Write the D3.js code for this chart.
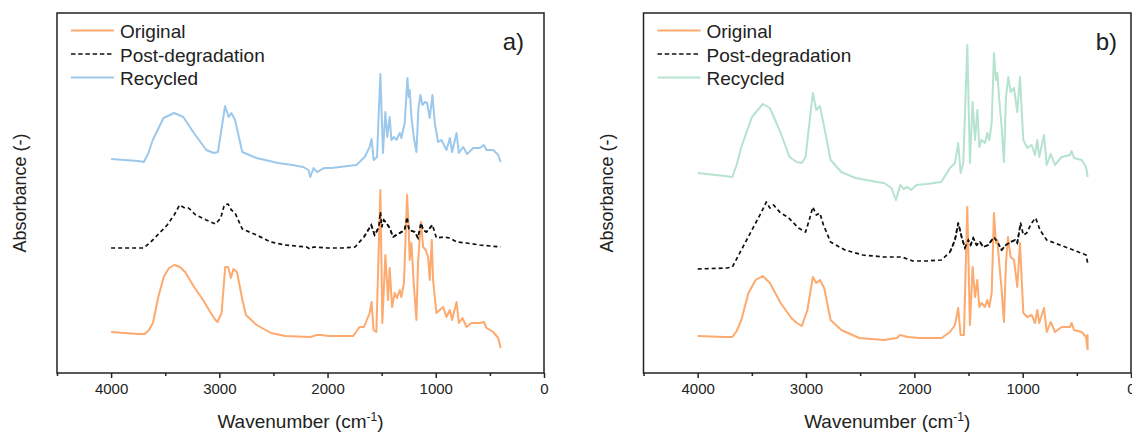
<!DOCTYPE html>
<html>
<head>
<meta charset="utf-8">
<script src="https://cdn.jsdelivr.net/npm/d3@7"></script>
<style>
  body { margin: 0; background: #fff; }
  svg { display: block; font-family: "Liberation Sans", Arial, sans-serif; }
</style>
</head>
<body>
<script>
// FTIR spectra, [wavenumber (cm-1), absorbance offset]
const seriesNames = ['Original', 'Post-degradation', 'Recycled'];
const xTicks = [4000, 3000, 2000, 1000, 0];
const xMinorTicks = [4500, 3500, 2500, 1500, 500];

const aOriginal = [[4000,0.41],[3750,0.39],[3690,0.39],[3650,0.43],[3613,0.50],[3564,0.76],[3514,0.96],[3465,1.05],[3415,1.08],[3365,1.06],[3316,1.01],[3233,0.86],[3150,0.73],[3084,0.61],[3035,0.53],[3018,0.51],[2979,0.60],[2946,1.06],[2919,1.06],[2893,0.95],[2870,1.04],[2837,1.01],[2787,0.73],[2754,0.58],[2655,0.48],[2523,0.40],[2390,0.37],[2160,0.36],[2100,0.38],[2060,0.38],[1990,0.37],[1862,0.37],[1762,0.37],[1704,0.46],[1663,0.46],[1611,0.60],[1593,0.71],[1575,0.43],[1549,0.41],[1512,1.83],[1494,0.50],[1466,1.18],[1441,0.73],[1426,1.05],[1404,0.66],[1380,0.80],[1358,0.75],[1333,0.83],[1318,0.76],[1294,0.90],[1265,1.78],[1250,1.43],[1241,1.13],[1225,1.30],[1204,0.90],[1179,0.53],[1164,1.10],[1148,1.36],[1136,1.51],[1117,1.26],[1093,1.23],[1071,1.16],[1056,0.93],[1037,1.33],[1025,0.93],[994,0.60],[963,0.63],[932,0.66],[901,0.56],[870,0.63],[849,0.53],[808,0.71],[787,0.50],[753,0.55],[716,0.46],[670,0.50],[593,0.50],[556,0.51],[531,0.45],[469,0.41],[423,0.35],[400,0.25]];

const aPostDeg = [[4000,1.25],[3698,1.25],[3615,1.33],[3482,1.48],[3417,1.58],[3367,1.68],[3318,1.65],[3284,1.65],[3218,1.58],[3120,1.53],[3035,1.49],[2987,1.55],[2954,1.68],[2920,1.69],[2889,1.63],[2855,1.60],[2788,1.44],[2657,1.38],[2524,1.31],[2392,1.28],[2194,1.26],[2160,1.24],[2130,1.26],[2000,1.25],[1862,1.25],[1746,1.26],[1664,1.36],[1596,1.48],[1565,1.38],[1525,1.46],[1512,1.61],[1500,1.46],[1481,1.53],[1457,1.50],[1426,1.45],[1395,1.36],[1333,1.40],[1287,1.43],[1265,1.56],[1247,1.43],[1194,1.41],[1164,1.35],[1136,1.50],[1117,1.43],[1086,1.41],[1031,1.48],[994,1.35],[932,1.36],[870,1.35],[808,1.31],[716,1.30],[593,1.28],[400,1.26]];

const aRecycled = [[4000,2.14],[3750,2.12],[3698,2.11],[3655,2.20],[3615,2.33],[3516,2.55],[3417,2.60],[3333,2.56],[3235,2.40],[3120,2.23],[3053,2.20],[3013,2.21],[2947,2.67],[2914,2.56],[2889,2.60],[2855,2.53],[2788,2.21],[2657,2.15],[2457,2.10],[2325,2.08],[2226,2.06],[2176,2.03],[2160,1.96],[2129,2.05],[2100,2.01],[2078,2.02],[2050,2.04],[2028,2.05],[1963,2.05],[1889,2.06],[1734,2.08],[1657,2.16],[1611,2.26],[1593,2.34],[1574,2.13],[1543,2.16],[1512,2.99],[1488,2.20],[1466,2.61],[1448,2.36],[1426,2.56],[1410,2.33],[1386,2.36],[1364,2.33],[1333,2.40],[1318,2.35],[1287,2.50],[1262,2.95],[1250,2.76],[1241,2.83],[1225,2.56],[1204,2.36],[1179,2.21],[1160,2.65],[1142,2.78],[1123,2.68],[1099,2.71],[1080,2.70],[1056,2.55],[1031,2.78],[1009,2.50],[979,2.31],[948,2.33],[901,2.23],[870,2.35],[849,2.21],[808,2.40],[787,2.20],[747,2.26],[710,2.19],[654,2.25],[593,2.25],[556,2.28],[531,2.23],[469,2.23],[423,2.18],[400,2.11]];

const bOriginal = [[4000,0.37],[3750,0.36],[3680,0.36],[3640,0.42],[3597,0.53],[3531,0.80],[3465,0.93],[3399,0.97],[3333,0.90],[3234,0.70],[3135,0.55],[3086,0.50],[3038,0.47],[2987,0.63],[2937,0.96],[2905,0.90],[2872,0.93],[2832,0.85],[2773,0.53],[2674,0.43],[2509,0.35],[2278,0.33],[2160,0.35],[2133,0.38],[2060,0.36],[1948,0.35],[1748,0.35],[1671,0.41],[1625,0.48],[1595,0.65],[1573,0.38],[1542,0.38],[1511,1.66],[1487,0.48],[1462,1.06],[1440,0.76],[1419,0.93],[1400,0.66],[1379,0.70],[1348,0.66],[1327,0.73],[1308,0.66],[1286,0.80],[1265,1.60],[1247,1.30],[1234,1.33],[1216,1.10],[1194,0.83],[1173,0.51],[1154,1.10],[1136,1.36],[1111,1.16],[1080,1.13],[1050,0.86],[1025,1.30],[994,0.60],[957,0.56],[917,0.58],[886,0.50],[865,0.63],[847,0.50],[803,0.65],[778,0.41],[741,0.51],[702,0.41],[640,0.46],[563,0.46],[548,0.50],[526,0.43],[455,0.41],[415,0.36],[404,0.25],[401,0.38],[400,0.23]];

const bPostDeg = [[4000,1.04],[3730,1.05],[3680,1.06],[3597,1.23],[3499,1.43],[3416,1.60],[3366,1.71],[3333,1.65],[3300,1.68],[3234,1.60],[3168,1.56],[3069,1.45],[3004,1.41],[2970,1.53],[2937,1.66],[2905,1.58],[2872,1.60],[2839,1.48],[2773,1.31],[2641,1.23],[2476,1.18],[2278,1.16],[2146,1.16],[2114,1.16],[2014,1.12],[1883,1.12],[1751,1.13],[1671,1.21],[1625,1.33],[1595,1.50],[1563,1.36],[1533,1.25],[1502,1.33],[1480,1.28],[1456,1.35],[1425,1.28],[1394,1.31],[1364,1.26],[1318,1.28],[1265,1.36],[1234,1.31],[1194,1.23],[1154,1.28],[1111,1.31],[1071,1.33],[1050,1.30],[1019,1.50],[994,1.38],[963,1.40],[917,1.50],[880,1.55],[840,1.43],[778,1.33],[656,1.28],[533,1.23],[415,1.18],[400,1.10]];

const bRecycled = [[4000,2.00],[3750,1.97],[3680,1.96],[3640,2.08],[3597,2.26],[3499,2.56],[3399,2.69],[3333,2.65],[3234,2.40],[3152,2.16],[3086,2.11],[3038,2.10],[3004,2.16],[2937,2.80],[2905,2.63],[2872,2.67],[2832,2.46],[2773,2.13],[2674,2.01],[2542,1.95],[2345,1.91],[2278,1.90],[2212,1.85],[2170,1.73],[2129,1.88],[2100,1.84],[2064,1.86],[2030,1.83],[1981,1.88],[1883,1.89],[1751,1.91],[1671,2.05],[1625,2.10],[1595,2.30],[1573,2.00],[1548,2.10],[1511,3.28],[1487,2.10],[1462,2.71],[1440,2.33],[1419,2.63],[1400,2.26],[1379,2.33],[1348,2.30],[1327,2.40],[1308,2.33],[1286,2.50],[1265,3.20],[1247,2.93],[1234,3.00],[1216,2.73],[1194,2.46],[1173,2.11],[1154,2.76],[1133,2.96],[1111,2.81],[1080,2.85],[1050,2.61],[1025,2.96],[994,2.33],[957,2.25],[917,2.28],[886,2.18],[865,2.33],[847,2.16],[803,2.38],[778,2.08],[741,2.19],[702,2.08],[640,2.16],[563,2.18],[548,2.22],[526,2.15],[455,2.13],[415,2.06],[400,1.96]];

const width = 1132, height = 433;
const svg = d3.select('body').append('svg').attr('width', width).attr('height', height);

function drawPanel(left, right, label, labelX, recycledColor, data) {
    let top = 13, bottom = 373;
    let xScale = d3.scaleLinear([4500, 0], [left, right]),
        yScale = d3.scaleLinear([0, 3.6], [bottom, top]);
    let g = svg.append('g');

    let lineGen = d3.line()
        .x(d => xScale(d[0]))
        .y(d => yScale(d[1]));

    let styles = [
        {color: '#fdaa6e', dash: null, width: 2},
        {color: '#111', dash: '4,3', width: 1.7},
        {color: recycledColor, dash: null, width: 2}
    ];
    // draw order: recycled, post-degradation, original on top
    [2, 1, 0].forEach(i => {
        g.append('path')
            .datum(data[i])
            .attr('d', lineGen)
            .style('fill', 'none')
            .style('stroke', styles[i].color)
            .style('stroke-width', styles[i].width)
            .style('stroke-dasharray', styles[i].dash)
            .style('stroke-linejoin', 'round');
    });
    // dashed curve over orange like the reference
    g.append('path')
        .datum(data[1].filter(d => d[0] < 1700 && d[0] > 1000))
        .attr('d', lineGen)
        .style('fill', 'none')
        .style('stroke', '#111')
        .style('stroke-width', 1.7)
        .style('stroke-dasharray', '4,3');

    // frame
    g.append('rect')
        .attr('x', left).attr('y', top)
        .attr('width', right - left).attr('height', bottom - top)
        .style('fill', 'none').style('stroke', '#222').style('stroke-width', 1.5);

    // bottom axis
    let xAxis = g.append('g').attr('transform', `translate(0,${bottom})`);
    xAxis.call(d3.axisBottom(xScale).tickValues(xTicks).tickSize(5).tickPadding(5).tickFormat(d3.format('d')));
    xAxis.append('g').call(d3.axisBottom(xScale).tickValues(xMinorTicks).tickSize(3).tickFormat(''));
    xAxis.selectAll('.domain').remove();
    xAxis.selectAll('line').style('stroke', '#222').style('stroke-width', 1.5);
    xAxis.selectAll('text').style('font-size', '15px').style('fill', '#222')
        .style('font-family', '"Liberation Sans", Arial, sans-serif');

    g.append('text')
        .attr('x', (left + right) / 2).attr('y', 428)
        .attr('text-anchor', 'middle')
        .style('font-size', '19px').style('fill', '#222')
        .html('Wavenumber (cm<tspan dy="-7" font-size="12">-1</tspan><tspan dy="7">)</tspan>');

    g.append('text')
        .attr('transform', `translate(${left - 31},${(top + bottom) / 2}) rotate(-90)`)
        .attr('text-anchor', 'middle')
        .style('font-size', '18px').style('fill', '#222')
        .text('Absorbance (-)');

    g.append('text')
        .attr('x', labelX).attr('y', 50)
        .attr('text-anchor', 'end')
        .style('font-size', '24px').style('fill', '#222')
        .text(label);

    // legend
    let rows = [30.5, 54, 77.5];
    seriesNames.forEach((name, i) => {
        g.append('line')
            .attr('x1', left + 14).attr('x2', left + 57)
            .attr('y1', rows[i]).attr('y2', rows[i])
            .style('stroke', styles[i].color)
            .style('stroke-width', i == 1 ? 1.7 : 2)
            .style('stroke-dasharray', i == 1 ? '4.5,2.7' : null);
        g.append('text')
            .attr('x', left + 63).attr('y', rows[i] + 1)
            .attr('dominant-baseline', 'central')
            .style('font-size', '19px').style('fill', '#222')
            .text(name);
    });
}

drawPanel(57, 544, 'a)', 524, '#9cc8ec', [aOriginal, aPostDeg, aRecycled]);
drawPanel(643.5, 1131, 'b)', 1117, '#b5e3ce', [bOriginal, bPostDeg, bRecycled]);
</script>
</body>
</html>
